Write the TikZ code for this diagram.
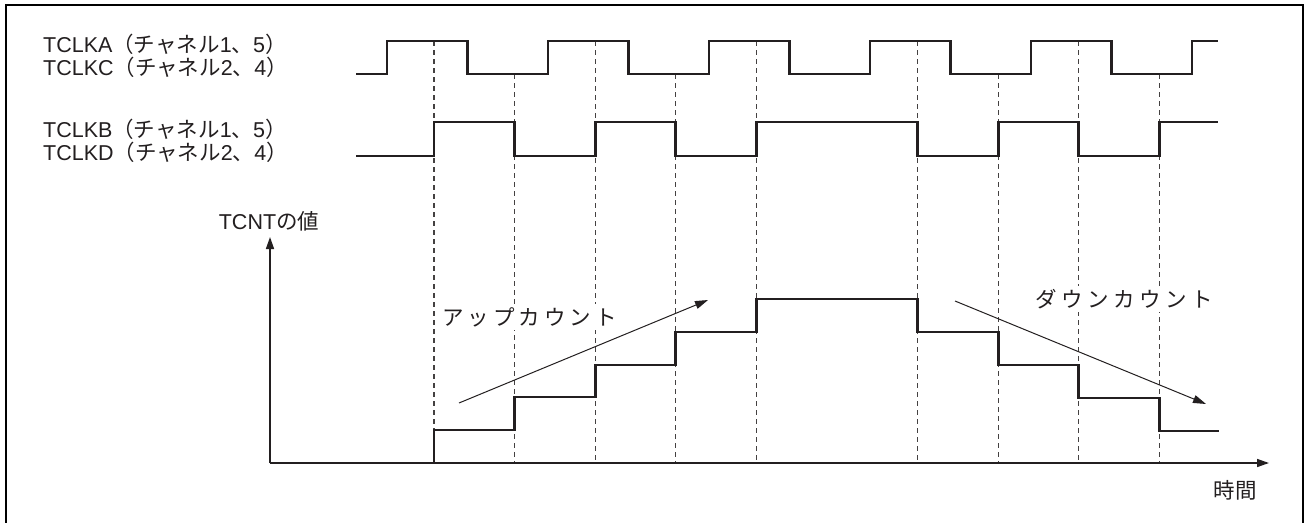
\documentclass[tikz,border=0pt]{standalone}
\usepackage{fontspec}
\setmainfont{Liberation Sans}
\newfontfamily\jpfont{Noto Sans CJK JP}
\usetikzlibrary{arrows.meta}
\definecolor{ink}{HTML}{231F20}
\begin{document}
\begin{tikzpicture}[x=1pt,y=-1pt,
  wave/.style={line width=2.7pt, draw=ink, line join=miter},
  guide/.style={line width=1.2pt, draw=ink!85, dash pattern=on 5pt off 4pt},
  axisline/.style={line width=1.5pt, draw=ink, -{Triangle[length=12pt,width=8pt]}},
  trend/.style={line width=1pt, draw=ink, -{Triangle[length=13pt,width=8pt]}},
  lbl/.style={font=\fontsize{21.5}{25}\selectfont, text=ink, inner sep=0pt},
  boxlbl/.style={lbl, fill=white, inner sep=3pt},
]
\useasboundingbox (0,0) rectangle (1308,522);
\fill[white] (0,0) rectangle (1308,522);
% frame
\draw[line width=2.6pt, draw=black] (6,523) -- (6,5) -- (1303,5) -- (1303,523);

% guides
\foreach \x/\y in {434/41, 514.6/74, 595.2/41, 675.8/74, 756.4/41, 917.6/41, 998.2/74, 1078.8/41, 1159.4/74}
  \draw[guide] (\x,\y) -- (\x,463);

% labels
\node[lbl, anchor=base west] (la) at (43,52) {TCLKA{\jpfont （チャネル}1{\jpfont 、}5{\jpfont ）}};
\node[lbl, anchor=base west] (lc) at (43,75) {TCLKC{\jpfont （チャネル}2{\jpfont 、}4{\jpfont ）}};
\node[lbl, anchor=base west] (lb) at (43,137.5) {TCLKB{\jpfont （チャネル}1{\jpfont 、}5{\jpfont ）}};
\node[lbl, anchor=base west] (ld) at (43,160.5) {TCLKD{\jpfont （チャネル}2{\jpfont 、}4{\jpfont ）}};

% waveforms
\draw[wave] (356,74) -| (387,41) -| (467.5,74) -| (548,41) -| (628.5,74) -| (709,41) -| (789.5,74) -| (870,41) -| (950.5,74) -| (1031,41) -| (1111.5,74) -| (1192,41) -- (1218,41);
\draw[wave] (356,156) -| (434,122) -| (514.6,156) -| (595.2,122) -| (675.8,156) -| (756.4,122) -| (917.6,156) -| (998.2,122) -| (1078.8,156) -| (1159.4,122) -- (1218,122);
\draw[wave] (434,463) |- (514.6,430) |- (595.2,397) |- (675.8,365) |- (756.4,332) |- (917.6,299) |- (998.2,332) |- (1078.8,365) |- (1159.4,398) |- (1219,431);

% axes
\coordinate (O) at (270,463);
\coordinate (ytip) at (270,237);
\coordinate (xtip) at (1269,463);
\draw[axisline] (O) -- (ytip);
\draw[axisline] (O) -- (xtip);
\node[lbl] (yl) at (269,221) {TCNT{\jpfont の値}};
\node[lbl] (xl) at (1235,490) {\jpfont 時間};

% count labels
\node[boxlbl] (up) at (529.5,317) {\jpfont ア\kern4ptッ\kern4ptプ\kern4ptカ\kern4ptウ\kern4ptン\kern4ptト};
\node[boxlbl] (down) at (1124,299) {\jpfont ダ\kern4.5ptウ\kern4.5ptン\kern4.5ptカ\kern4.5ptウ\kern4.5ptン\kern4.5ptト};

% trend arrows
\coordinate (ua) at (459,403);
\coordinate (ub) at (708,300);
\coordinate (da) at (955,301);
\coordinate (db) at (1206,404);
\draw[trend] (ua) -- (ub);
\draw[trend] (da) -- (db);
\end{tikzpicture}
\end{document}
